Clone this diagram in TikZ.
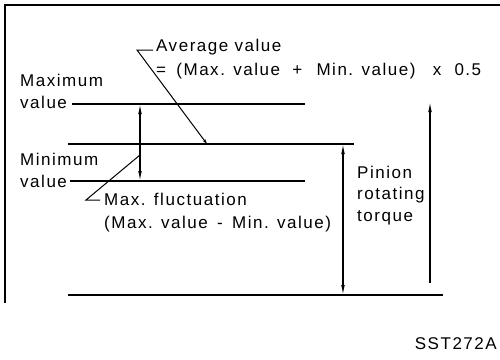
\documentclass[tikz,border=0pt]{standalone}
\usepackage{fontspec}
\setmainfont{Liberation Sans}[LetterSpace=9]
\usetikzlibrary{arrows.meta}
\tikzset{lvl/.style={line width=1.6pt}, dim/.style={{Latex[length=10pt,width=3.6pt]}-{Latex[length=10pt,width=3.6pt]}, line width=1.1pt}, lead/.style={line width=1pt}, txt/.style={inner sep=0pt, anchor=base west, align=left, font=\fontsize{17}{22}\selectfont}}

\begin{document}
\begin{tikzpicture}[x=1pt,y=-1pt]
\useasboundingbox (0,0) rectangle (500,359);
\draw[line width=1.2pt] (5,303) -- (5,5) -- (500,5);
% level lines
\coordinate (maxA) at (72,104); \coordinate (maxB) at (305,104);
\coordinate (avgA) at (68,144); \coordinate (avgB) at (354,144);
\coordinate (minA) at (70,181); \coordinate (minB) at (305,181);
\coordinate (botA) at (68,295); \coordinate (botB) at (443,295);
\draw[lvl] (maxA) -- (maxB); \draw[lvl] (avgA) -- (avgB);
\draw[lvl] (minA) -- (minB); \draw[lvl] (botA) -- (botB);
% arrows
\coordinate (flT) at (140,104); \coordinate (flB) at (140,181);
\coordinate (tqT) at (343,144); \coordinate (tqB) at (343,295);
\coordinate (upB) at (430,283); \coordinate (upT) at (430,102);
\draw[dim] (flT) -- (flB);
\draw[dim] (tqT) -- (tqB);
\draw[-{Latex[length=10pt,width=3.6pt]}, line width=1.1pt] (upB) -- (upT);
% texts (anchored on the last line)
\node[txt] (maxtxt) at (20,108) {Maximum\\value};
\node[txt] (mintxt) at (20,187) {Minimum\\value};
\node[txt, font=\fontsize{17}{24}\selectfont] (avgtxt) at (156,75) {Average value\\=\hspace{4pt} (Max. value\hspace{6pt} +\hspace{8pt} Min. value)\hspace{11pt} x\hspace{7pt} 0.5};
\node[txt, font=\fontsize{17}{23}\selectfont] (fluctxt) at (104,228) {Max. fluctuation\\(Max. value\hspace{3pt} -\hspace{3pt} Min. value)};
\node[txt, font=\fontsize{17}{21.5}\selectfont] (torqtxt) at (357,221) {Pinion\\rotating\\torque};
\node[txt, anchor=base east] (code) at (497,349) {SST272A};
% leaders
\coordinate (avgK) at (137,50); \coordinate (avgE) at (153,50); \coordinate (avgP) at (207,144);
\draw[lead, -{Stealth[length=5pt,width=3pt]}] (avgE) -- (avgK) -- (avgP);
\coordinate (flP) at (140,155); \coordinate (flK) at (86,200); \coordinate (flE) at (100,200);
\draw[lead] (flP) -- (flK) -- (flE);
\end{tikzpicture}
\end{document}
